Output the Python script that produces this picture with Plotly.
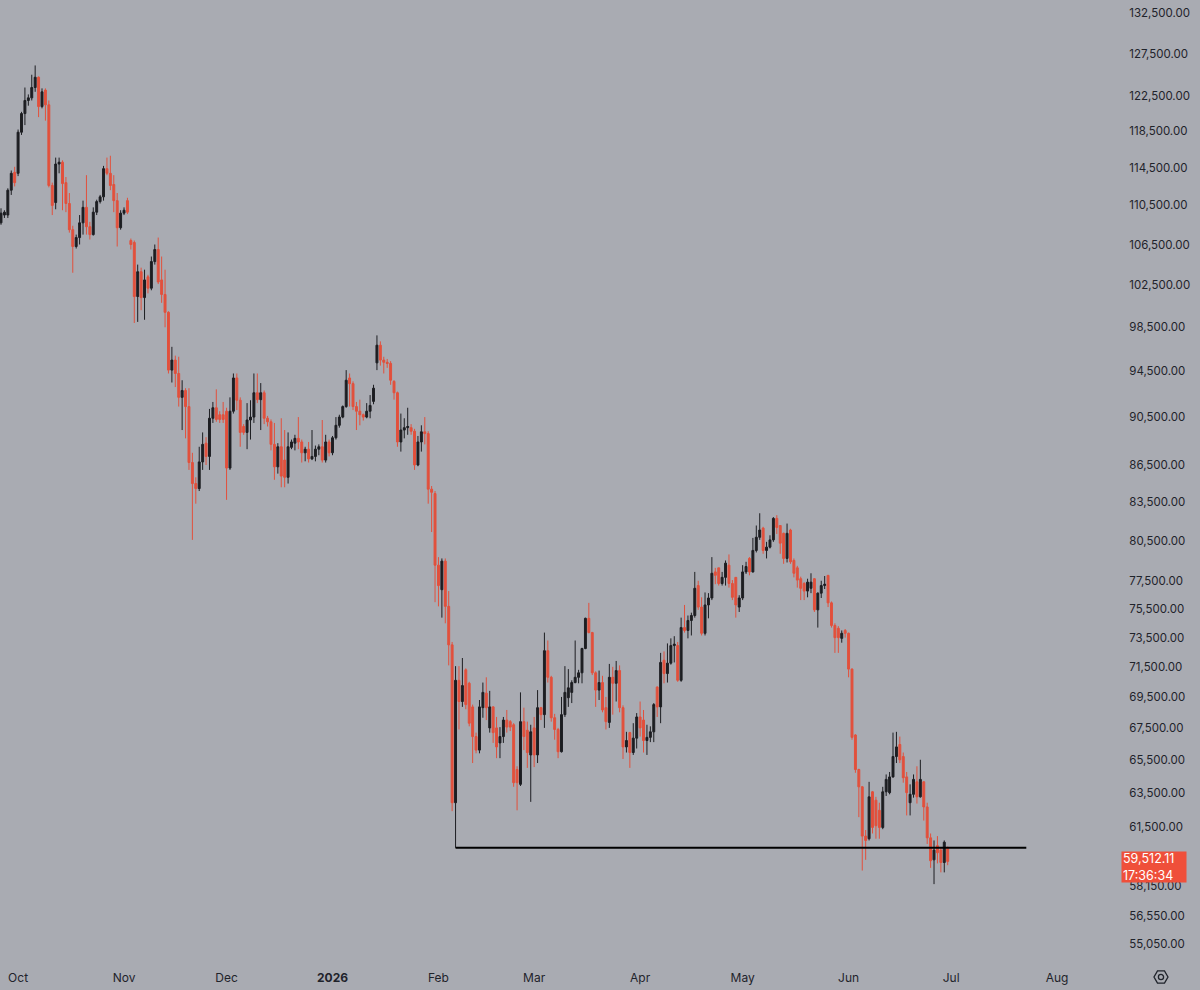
import math
import pandas as pd
import plotly.graph_objects as go

# ---------------- data (daily candles) ----------------
start_date = "2025-09-26"

open_ = [108700,109500,109500,112100,114000,113900,118400,120500,122000,122300,
         123500,124700,121300,123200,121500,112600,110800,114900,115100,112900,
         110700,108000,106300,107200,108700,110300,108300,107500,109800,110900,
         111400,114400,113900,112700,111000,108200,109700,111000,106900,106700,
         101400,103800,101300,103300,102200,104800,106000,103000,101600,99900,
         94600,95500,94300,92200,92800,91400,86700,85000,84600,86750,
         88300,87200,90400,91300,90700,90700,91000,86250,91000,93900,
         91950,89700,89200,90250,90500,92600,92000,92600,90400,90100,
         88200,86350,88000,86900,85500,87950,88300,88700,88400,87500,
         87800,87000,87200,87800,88000,86900,88400,87500,88750,89800,
         90500,91400,93900,93400,91400,91000,90700,90500,91000,91850,
         95250,96850,95500,95300,95200,93600,92600,88400,89400,89600,
         89600,89300,86500,88400,89250,89100,84550,84200,78700,76900,
         79000,75700,73000,62900,70600,69200,71300,70400,68850,66950,
         66100,68800,69750,67500,68850,67500,66550,66950,68000,67900,
         67700,64900,64000,67900,67350,65800,67500,65800,68800,68350,
         72600,70800,68150,67400,66000,68350,69450,69800,70450,70800,
         71100,72750,74850,73850,71100,69950,70450,68800,67850,70800,
         70400,71250,68800,66300,67200,65950,66850,68200,68000,66700,
         66900,67250,70150,68850,71950,71050,71750,72950,72950,70600,
         74200,74000,74700,75050,77200,75650,73800,75800,76300,78200,
         78500,77350,77800,78700,77350,77800,75650,76300,78200,79200,
         78200,79800,80800,81500,79800,80050,80600,82250,81700,81100,
         79200,81350,79050,78500,77700,77350,76800,77000,77700,75450,
         76650,77200,77950,75950,74350,74150,73450,74000,73800,71350,
         67050,64900,63850,60950,60800,63550,63050,62450,61450,63550,
         63500,64450,65700,66450,65700,64450,62900,63400,64150,63250,
         64150,62650,60850,59600,60400,60150,59450,60300]

high = [110200,110000,112300,114200,114600,118700,120700,123500,122700,125000,
        126100,124800,123400,123400,122000,112900,115600,115600,115300,113500,
        111800,108400,107500,109500,111000,113700,108800,110300,111100,111600,
        114700,115600,115800,113700,111800,110000,110300,111300,107100,106900,
        104500,104200,104000,103500,105300,106500,107200,105300,104000,100000,
        96700,95900,95800,93700,93000,93000,87500,85500,88000,89200,
        88800,91200,91800,92900,91000,91800,91300,92200,94300,94300,
        92200,89900,91700,91950,94300,94300,93450,92800,90600,90300,
        90000,88300,90400,89400,89200,88600,89000,90500,88600,88000,
        88400,89400,88100,88200,90250,89000,88600,88900,90500,90700,
        91500,94600,94300,93600,91800,92000,90800,91700,92400,93300,
        97750,97200,95800,95600,95400,93700,92700,90800,90400,91300,
        89900,89500,88900,89800,90500,89300,84800,84400,79300,79200,
        79200,76800,73200,71550,71550,72100,71400,70500,69000,67200,
        69300,70450,70800,69900,68900,68200,67550,68200,68650,68000,
        67800,65100,69800,68800,67900,67700,68200,69950,68850,73850,
        73300,70900,68400,67500,69500,71550,71350,70600,73300,71300,
        72800,74900,75950,73900,71200,71250,70900,69500,71700,71500,
        71900,71600,68950,67250,67250,67800,68450,69200,68650,67700,
        67600,69100,70200,72450,72550,73100,73450,73600,73200,74900,
        75800,75050,75250,78200,77550,76350,76700,76650,79300,78500,
        78500,78200,79050,79500,77600,77800,76500,78700,78950,79300,
        80750,81700,82650,81600,80450,80950,82350,82500,81700,81150,
        81850,81450,79200,78650,77850,77450,77700,78100,77750,76700,
        77550,77900,77950,76050,74500,74300,74000,74100,73850,71400,
        67100,64950,63900,61300,64150,63600,63250,62900,63850,64600,
        64750,67200,67250,66950,65950,64750,64000,64600,65100,65500,
        64200,62900,61100,60700,60950,60300,60700,60350]

low = [108500,109200,109200,111600,112500,113600,118100,119200,121400,122000,
       123000,120100,121100,119700,112400,109500,110100,113900,110000,109800,
       107700,103700,106100,106500,107500,107500,107000,107400,109500,110700,
       111000,113700,112100,109800,106300,108000,109500,109600,106000,98900,
       99000,100100,99200,101700,102000,104500,102600,100800,98500,94300,
       93500,93100,91400,89400,88700,86100,80600,83400,84400,86100,
       86500,86100,90000,90100,90000,90000,83700,86100,90800,91100,
       88000,89000,87800,88600,90000,91700,89400,89900,89700,87700,
       85300,85800,84700,84700,85000,87800,87700,87800,86700,86800,
       86700,86900,86800,87300,86700,86700,87200,87300,88600,89600,
       90400,91300,91400,91100,89400,89800,90200,90400,90400,91600,
       94600,95000,94300,94800,93300,92000,88000,87600,88700,89000,
       89000,86100,86400,87600,88200,83400,81200,76000,75700,74900,
       74500,71600,62400,60280,67400,68850,68700,67600,65300,65900,
       65900,68150,68000,67200,66550,65600,65600,66550,67200,67300,
       63850,62450,63900,66100,65000,62950,65050,65300,68000,67500,
       70450,67900,66750,65600,65950,68200,68850,69100,70400,70400,
       70400,72700,73800,70950,68850,69300,68500,67400,67500,68350,
       69200,68500,65550,65950,65000,65800,66200,66950,65950,65800,
       66600,66600,68200,67800,70400,70450,71650,71800,70500,70500,
       73850,73450,73650,74900,75450,73650,73650,74850,76150,77300,
       77200,77200,77200,77050,76150,74900,75300,76150,78050,77950,
       78150,79650,80600,79550,79200,79950,80450,81050,79550,78800,
       78900,78800,77800,77050,76150,76150,76350,76650,75300,74200,
       76300,76950,75650,74200,72450,72450,73150,73500,70800,66750,
       64700,62050,59000,59600,60700,61100,60800,60800,61350,63300,
       63400,64400,65300,65300,64100,62150,62150,63200,62850,63200,
       61850,60500,59150,58250,59400,58900,58900,59300]

close = [109700,109800,112100,113900,112900,118400,120500,122000,122300,123500,
         124700,121300,123000,121500,112600,110500,114900,115100,112800,110700,
         108000,106300,107200,108700,110300,108300,107500,109800,110900,111400,
         114400,113900,112600,111000,108200,109700,110000,109800,106500,101400,
         103800,101300,103000,102200,104800,106000,102800,101600,99900,94600,
         95500,94300,92200,92800,91400,86700,85000,84600,86750,88200,
         87200,90400,91300,90300,90300,90300,86250,91000,93900,91950,
         89200,89200,90250,90500,92600,92000,92600,90400,90100,88200,
         86350,88000,85600,85500,88000,88400,88700,88400,87500,87800,
         87000,87200,87800,88000,86900,88400,87500,88750,89800,90500,
         91400,93700,93400,91400,91000,90700,90500,91000,91500,93000,
         96850,95500,95300,95200,93700,92600,88400,89400,89600,89700,
         89300,86500,88400,89250,89100,84550,84300,78700,77200,79000,
         75700,73000,62900,70600,69200,70250,69000,67800,66950,66100,
         68850,69800,68800,68850,67200,66300,66950,68000,67550,67550,
         64100,64100,67900,66950,65950,67250,65800,68800,68350,72600,
         70800,68150,67400,66000,68350,69800,70100,70450,70800,71100,
         72750,74850,73850,71100,69950,70450,68650,67900,70800,70400,
         71250,68800,66300,66700,65950,66850,68200,67500,66700,66900,
         67250,69000,68850,71800,71050,71750,72950,73050,70600,74200,
         74000,74700,75050,77000,75650,73800,75800,76300,78100,77950,
         77350,77800,78850,77350,76350,75800,76300,78200,78600,78200,
         79800,80800,81350,79800,80050,80600,82250,81550,80350,79200,
         81100,78950,78100,77600,77000,76800,77450,77450,75450,76650,
         77200,77300,75950,74350,73500,73500,73800,73800,71350,66900,
         64900,63850,60950,60700,63250,61450,61550,61450,63550,64300,
         64450,65700,66300,65500,64400,63500,63400,64300,63250,64300,
         62650,60850,59550,60150,60000,59450,60600,59512.11]

# support line drawn on the chart
support_level = 60280
support_start = "2026-02-06"
support_end = "2026-07-23"

# last price box
last_price_text = "59,512.11"
countdown_text = "17:36:34"

# axis labels
price_ticks = [132500, 127500, 122500, 118500, 114500, 110500, 106500, 102500,
               98500, 94500, 90500, 86500, 83500, 80500, 77500, 75500, 73500,
               71500, 69500, 67500, 65500, 63500, 61500, 59750, 58150, 56550, 55050]
month_ticks = ["2025-10-01", "2025-11-01", "2025-12-01", "2026-01-01", "2026-02-01",
               "2026-03-01", "2026-04-01", "2026-05-01", "2026-06-01", "2026-07-01",
               "2026-08-01"]
month_labels = ["Oct", "Nov", "Dec", "<b>2026</b>", "Feb", "Mar", "Apr", "May",
                "Jun", "Jul", "Aug"]

# view window
x_view = ["2025-09-25 17:00", "2026-08-19 10:00"]
y_view = [54124, 134130]

# ---------------- styles ----------------
BG = "#a9abb2"
UP = "#1d1e22"
DOWN = "#e2503c"
TEXT = "#1f232b"
FONT = "Inter"

dates = pd.date_range(start_date, periods=len(close), freq="D")

fig = go.Figure()
fig.add_trace(go.Candlestick(
    x=dates, open=open_, high=high, low=low, close=close,
    increasing=dict(line=dict(color=UP, width=1), fillcolor=UP),
    decreasing=dict(line=dict(color=DOWN, width=1), fillcolor=DOWN),
    whiskerwidth=0, showlegend=False, hoverinfo="skip",
))
fig.add_trace(go.Scatter(
    x=[support_start, support_end], y=[support_level, support_level],
    mode="lines", line=dict(color="#000000", width=2),
    showlegend=False, hoverinfo="skip",
))

fig.update_layout(
    width=1200, height=990,
    margin=dict(l=0, r=80, t=0, b=28),
    paper_bgcolor=BG, plot_bgcolor=BG,
    font=dict(family=FONT, color=TEXT, size=12),
    showlegend=False,
    boxgap=0.25, boxgroupgap=0.25,
    xaxis=dict(
        type="date", range=x_view, rangeslider=dict(visible=False),
        showgrid=False, zeroline=False, showline=False,
        tickvals=month_ticks, ticktext=month_labels,
        ticks="outside", ticklen=5, tickcolor=BG,
        tickfont=dict(family=FONT, size=12, color=TEXT),
        fixedrange=True,
    ),
    yaxis=dict(
        type="log", side="right",
        range=[math.log10(y_view[0]), math.log10(y_view[1])],
        showgrid=False, zeroline=False, showline=False,
        tickvals=price_ticks, ticktext=[f"{v:,.2f}" for v in price_ticks],
        ticks="outside", ticklen=6, tickcolor=BG,
        tickfont=dict(family=FONT, size=11.5, color=TEXT),
        fixedrange=True,
    ),
)

# last price label
fig.add_annotation(
    xref="paper", yref="y", x=1, y=math.log10(close[-1]),
    xanchor="left", yanchor="middle", yshift=-6, xshift=1,
    text=f"{last_price_text}<br>{countdown_text}", showarrow=False, align="left",
    font=dict(family=FONT, size=12.5, color="#ffffff"),
    bgcolor="#ef4f3a", borderpad=1, width=62, height=28,
)

# settings (gear) icon at the bottom right corner
hexagon = "M 7 0 L 3.5 6.1 L -3.5 6.1 L -7 0 L -3.5 -6.1 L 3.5 -6.1 Z"
fig.add_shape(type="path", xref="paper", yref="paper",
              xsizemode="pixel", ysizemode="pixel",
              xanchor=1.0366, yanchor=-0.0156, path=hexagon,
              line=dict(color=TEXT, width=1.3))
fig.add_shape(type="circle", xref="paper", yref="paper",
              xsizemode="pixel", ysizemode="pixel",
              xanchor=1.0366, yanchor=-0.0156, x0=-2.6, x1=2.6, y0=-2.6, y1=2.6,
              line=dict(color=TEXT, width=1.3))

fig.write_html("out.html")
